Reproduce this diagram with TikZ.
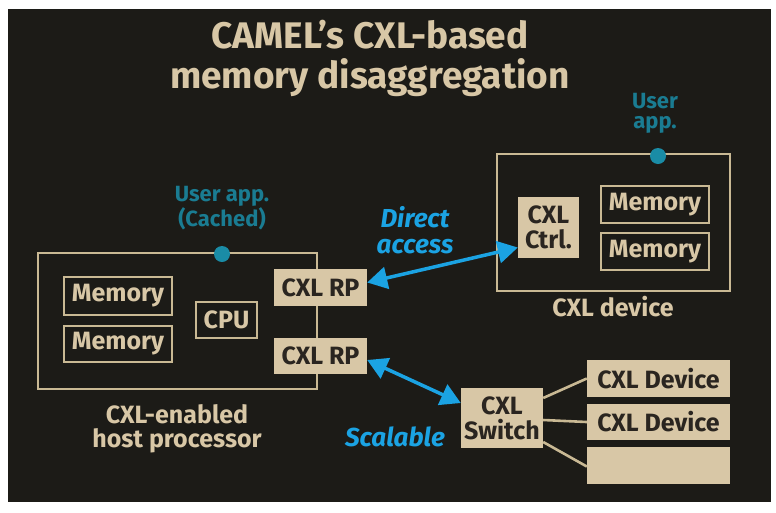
\documentclass[tikz,border=0pt]{standalone}
\usepackage{fontspec}
\setmainfont{Fira Sans}
\usetikzlibrary{arrows.meta,calc}
\definecolor{bg}{HTML}{1C1B17}
\definecolor{tan}{HTML}{D8C7A6}
\definecolor{tanline}{HTML}{C9B994}
\definecolor{darktext}{HTML}{2A2520}
\definecolor{cxlblue}{HTML}{1BA3E3}
\definecolor{teal}{HTML}{1A7C92}
\definecolor{dotteal}{HTML}{1A8CA6}
\begin{document}
\begin{tikzpicture}[x=1pt,y=-1pt,
  outerbox/.style={draw=tanline,line width=2.6pt,inner sep=0pt},
  linebox/.style={draw=tanline,line width=1.8pt,text=tan,font=\bfseries\fontsize{25}{26}\selectfont,inner sep=0pt},
  fillbox/.style={fill=tan,text=darktext,font=\bfseries\fontsize{25}{25}\selectfont,inner sep=0pt,align=center},
  caption/.style={text=tan,font=\bfseries\fontsize{25}{24}\selectfont,align=center},
  appnote/.style={text=teal,font=\bfseries\fontsize{22}{20}\selectfont,align=center},
  bluenote/.style={text=cxlblue,font=\bfseries\itshape\fontsize{26}{26}\selectfont,align=center},
  appdot/.style={circle,fill=dotteal,minimum size=16pt,inner sep=0pt},
  bluearrow/.style={draw=cxlblue,line width=3.5pt,{Triangle[length=20pt,width=22pt]}-{Triangle[length=20pt,width=22pt]}},
  link/.style={draw=tanline,line width=2.6pt}
]
\useasboundingbox (0,0) rectangle (776,512);
\fill[white] (0,0) rectangle (776,512);
\fill[bg] (8,9) rectangle (771,502);

% title
\node[text=tan,font=\bfseries\fontsize{37}{40}\selectfont,align=center] (title) at (370,58) {CAMEL’s CXL-based\\memory disaggregation};

% host processor
\node[outerbox,minimum width=279pt,minimum height=136pt] (host) at (177.5,321) {};
\node[linebox,minimum width=108pt,minimum height=38pt] (mem1) at (118,296) {Memory};
\node[linebox,minimum width=108pt,minimum height=36pt] (mem2) at (118,344) {Memory};
\node[linebox,minimum width=61pt,minimum height=36pt] (cpu) at (226.5,320) {CPU};
\node[fillbox,minimum width=93pt,minimum height=37pt] (rp1) at (320.5,287.5) {CXL RP};
\node[fillbox,minimum width=93pt,minimum height=36pt] (rp2) at (320.5,356) {CXL RP};
\node[appdot] (dot1) at (222,254) {};
\node[appnote] (app1) at (222,208) {User app.\\(Cached)};
\node[caption] (hostlbl) at (177,429) {CXL-enabled\\host processor};

% CXL device
\node[outerbox,minimum width=233pt,minimum height=137pt] (dev) at (613.5,222.5) {};
\node[fillbox,minimum width=61pt,minimum height=61pt] (ctrl) at (548.5,227.5) {CXL\\Ctrl.};
\node[linebox,minimum width=108pt,minimum height=37pt] (dmem1) at (655,204.5) {Memory};
\node[linebox,minimum width=108pt,minimum height=37pt] (dmem2) at (655,251.5) {Memory};
\node[appdot] (dot2) at (658,156) {};
\node[appnote] (app2) at (655,113) {User\\app.};
\node[caption] (devlbl) at (613,307) {CXL device};

% switch and devices
\node[fillbox,minimum width=82pt,minimum height=60pt] (sw) at (502,418) {CXL\\Switch};
\node[fillbox,minimum width=143pt,minimum height=37pt] (cd1) at (658.5,378.5) {CXL Device};
\node[fillbox,minimum width=143pt,minimum height=36pt] (cd2) at (658.5,422) {CXL Device};
\node[fillbox,minimum width=143pt,minimum height=37pt] (cd3) at (658.5,465.5) {};
\draw[link] ([yshift=20pt]sw.east) -- (cd1.west);
\draw[link] ([yshift=-2pt]sw.east) -- (cd2.west);
\draw[link] ([yshift=-24pt]sw.east) -- ([yshift=-1pt]cd3.west);

% arrows
\draw[bluearrow] ([yshift=5pt]rp1.east) -- ([yshift=-20pt]ctrl.west);
\draw[bluearrow] ([yshift=-4pt]rp2.east) -- ([yshift=15pt]sw.west);
\node[bluenote] (direct) at (415,230) {Direct\\access};
\node[bluenote] (scal) at (395,437) {Scalable};
\end{tikzpicture}
\end{document}
